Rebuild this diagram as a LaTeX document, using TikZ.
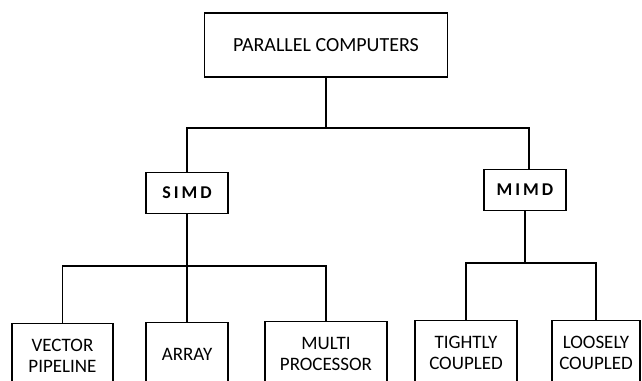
\documentclass[tikz,border=0pt]{standalone}
\usepackage{fontspec}
\setsansfont{Carlito}
\usepackage{tikz}
\tikzset{
    box/.style={draw, line width=1.3pt, rectangle, align=center, inner sep=0pt,
        font=\sffamily\fontsize{19}{21}\selectfont},
    mainbox/.style={box, line width=1.6pt, minimum width=243pt, minimum height=64pt,
        font=\sffamily\fontsize{20}{21}\selectfont},
    typebox/.style={box, line width=1.8pt, minimum width=82pt, minimum height=41pt,
        font=\sffamily\bfseries\fontsize{18}{20}\selectfont},
    leafbox/.style={box, anchor=north, minimum height=64pt},
    link/.style={line width=1.3pt},
    boldlink/.style={line width=1.8pt}}

\begin{document}
\begin{tikzpicture}[x=1pt, y=-1pt]
    \useasboundingbox (0,0) rectangle (642,380);
    \clip (0,0) rectangle (642,380);

        \node[mainbox] (pc) at (326,45) {PARALLEL COMPUTERS};
        \node[typebox] (simd) at (187,193) {S\,I\,M\,D};
        \node[typebox] (mimd) at (525,190) {M\,I\,M\,D};

        \node[leafbox, minimum width=101pt] (vec) at (62.5,323) {VECTOR\\PIPELINE};
        \node[leafbox, minimum width=82pt] (arr) at (187,322) {ARRAY};
        \node[leafbox, minimum width=122pt] (mul) at (326,321) {MULTI\\PROCESSOR};
        \node[leafbox, minimum width=102pt] (tig) at (466,320) {TIGHTLY\\COUPLED};
        \node[leafbox, minimum width=88pt] (loo) at (596,320) {LOOSELY\\COUPLED};

        \coordinate (top) at (326,128);
        \coordinate (left) at (187,266);
        \coordinate (right) at (525,263);

        \draw[boldlink] (pc) -- (top);
        \draw[boldlink] (top) -| (simd.north);
        \draw[boldlink] (top) -| ([xshift=4pt]mimd.north);

        \draw[link] (simd) -- (left);
        \draw[link] (left) -| (vec.north);
        \draw[link] (left) -| (mul.north);
        \draw[link] (left) -- (arr.north);

        \draw[link] (mimd) -- (right);
        \draw[link] (right) -| (tig.north);
        \draw[link] (right) -| (loo.north);

\end{tikzpicture}
\end{document}
